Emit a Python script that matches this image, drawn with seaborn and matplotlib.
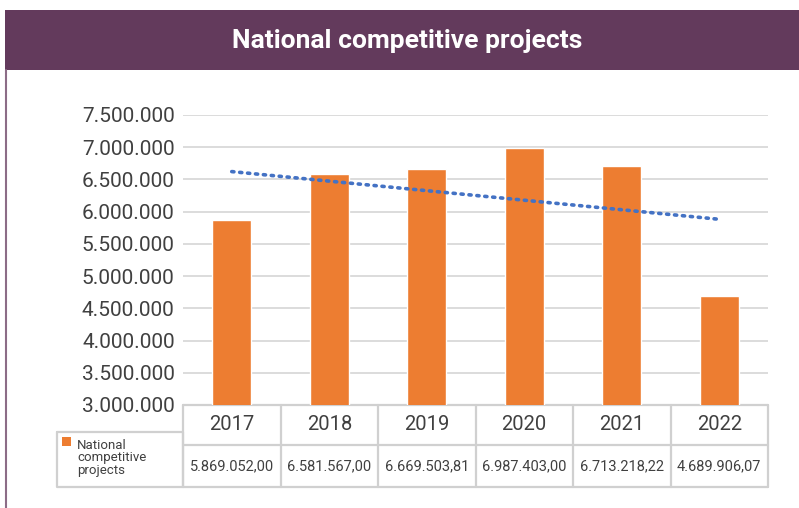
import numpy as np
import pandas as pd
import matplotlib
matplotlib.use("Agg")
import matplotlib.pyplot as plt
import matplotlib.transforms as mtransforms
from matplotlib.patches import Rectangle
from matplotlib.ticker import FuncFormatter
import seaborn as sns

sns.set_theme(style="white")
plt.rcParams['font.family'] = ['Roboto', 'DejaVu Sans']

# dados
anos = ['2017', '2018', '2019', '2020', '2021', '2022']
valores = [5869052.00, 6581567.00, 6669503.81, 6987403.00, 6713218.22, 4689906.07]
titulo = 'National competitive projects'
serie_legenda = 'National\ncompetitive\nprojects'
y_ticks = [3000000, 3500000, 4000000, 4500000, 5000000, 5500000, 6000000, 6500000, 7000000, 7500000]

df = pd.DataFrame({'Ano': anos, 'Valor': valores})

W, H = 799, 508
fig = plt.figure(figsize=(W / 100, H / 100), dpi=100)

# area do grafico (pixels)
x0, x1, ytop, ybot = 183, 768, 115, 405
ax = fig.add_axes([x0 / W, (H - ybot) / H, (x1 - x0) / W, (ybot - ytop) / H])

laranja = '#ED7D31'
cinza_txt = '#404040'
cinza_grade = '#D9D9D9'
cinza_tab = '#D0D0D0'
roxo = '#633A5C'

sns.barplot(data=df, x='Ano', y='Valor', color=laranja, width=0.40, saturation=1, ax=ax, zorder=3)

# linha de tendencia linear
xs = np.arange(len(valores))
coef = np.polyfit(xs, valores, 1)
ax.plot(xs, np.poly1d(coef)(xs), color='#4472C4', linewidth=2.6,
        linestyle=(0, (0.6, 1.6)), dash_capstyle='round', zorder=4)

ax.set_ylim(3000000, 7500000)
ax.set_xlim(-0.5, len(anos) - 0.5)
ax.set_yticks(y_ticks)
ax.yaxis.set_major_formatter(FuncFormatter(lambda v, _: f'{v:,.0f}'.replace(',', '.')))
ax.tick_params(axis='y', length=0, pad=6, labelsize=15, labelcolor=cinza_txt)
ax.set_xticks([])
ax.set_xlabel('')
ax.set_ylabel('')
ax.grid(axis='y', color=cinza_grade, linewidth=1.3, zorder=0)
ax.set_axisbelow(True)
for s in ax.spines.values():
    s.set_visible(False)

# tabela de dados abaixo do eixo
trans = mtransforms.blended_transform_factory(ax.transData, ax.transAxes)
ah = ybot - ytop
r1 = -40 / ah
r2 = -82 / ah
for y in [0, r1, r2]:
    ax.plot([-0.5, len(anos) - 0.5], [y, y], transform=trans, color=cinza_tab, lw=1.6, clip_on=False)
for i in range(len(anos) + 1):
    ax.plot([i - 0.5, i - 0.5], [0, r2], transform=trans, color=cinza_tab, lw=1.6, clip_on=False)
for i, (a, v) in enumerate(zip(anos, valores)):
    ax.text(i, r1 / 2, a, transform=trans, ha='center', va='center', fontsize=14.5,
            color=cinza_txt)
    txt = f'{v:,.2f}'.replace(',', '#').replace('.', ',').replace('#', '.')
    ax.text(i, (r1 + r2) / 2, txt, transform=trans, ha='center', va='center', fontsize=10.5,
            color=cinza_txt)

# camada em pixels para cabecalho, borda e legenda
ov = fig.add_axes([0, 0, 1, 1], zorder=5)
ov.set_xlim(0, W)
ov.set_ylim(H, 0)
ov.axis('off')
ov.patch.set_alpha(0)
ov.add_patch(Rectangle((5, 10), W - 5, 60, color=roxo, lw=0))
ov.text(407, 41, titulo, ha='center', va='center', color='white', fontsize=19, fontweight='bold')
ov.plot([6, 6], [70, H], color='#8C6C87', lw=1.5)

# celula da legenda
ov.plot([57, 183, 183, 57, 57], [432, 432, 487, 487, 432], color=cinza_tab, lw=1.6)
ov.add_patch(Rectangle((62, 437), 9, 9, color=laranja, lw=0))
ov.text(77, 458, serie_legenda, ha='left', va='center', fontsize=9.5, color=cinza_txt,
        linespacing=0.95)

fig.savefig('out.png', dpi=100)
